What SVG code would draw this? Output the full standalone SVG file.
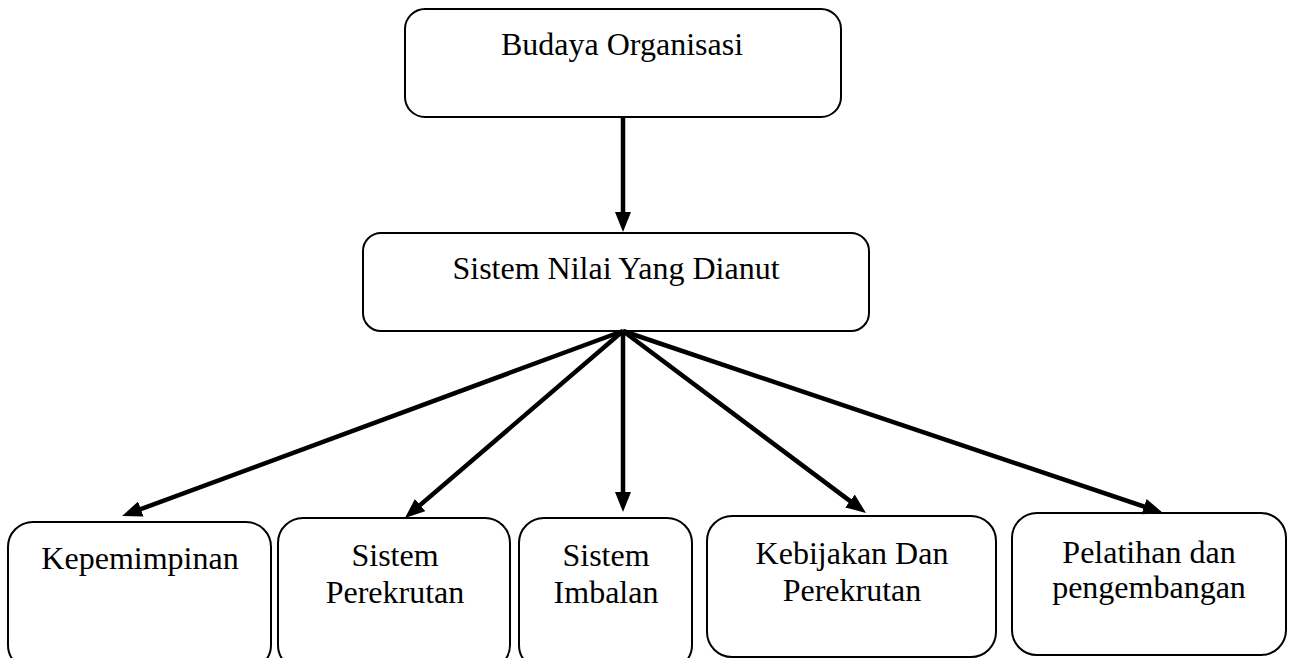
<svg xmlns="http://www.w3.org/2000/svg" width="1294" height="658" viewBox="0 0 1294 658">
  <style>
    .box { fill: #ffffff; stroke: #000000; stroke-width: 2; }
    .lbl { font-family: "Liberation Serif", "Times New Roman", serif; font-size: 32px; fill: #000000; text-anchor: middle; }
    .conn { stroke: #000000; stroke-width: 4.5; fill: none; marker-end: url(#arrow); }
  </style>
  <defs>
    <marker id="arrow" markerUnits="userSpaceOnUse" markerWidth="20" markerHeight="16" refX="9" refY="8" orient="auto">
      <path d="M0,0 L20,8 L0,16 z" fill="#000000"/>
    </marker>
  </defs>
  <rect width="1294" height="658" fill="#ffffff"/>

  <g id="budaya-organisasi">
    <rect class="box" x="405" y="9" width="436" height="108" rx="20" ry="20"/>
    <text class="lbl" x="622" y="55">Budaya Organisasi</text>
  </g>

  <g id="sistem-nilai">
    <rect class="box" x="363" y="233" width="506" height="98" rx="18" ry="18"/>
    <text class="lbl" x="616" y="279">Sistem Nilai Yang Dianut</text>
  </g>

  <g id="kepemimpinan">
    <rect class="box" x="8" y="522" width="263" height="148" rx="25" ry="25"/>
    <text class="lbl" x="140" y="569">Kepemimpinan</text>
  </g>

  <g id="sistem-perekrutan">
    <rect class="box" x="278" y="518" width="232" height="152" rx="25" ry="25"/>
    <text class="lbl" x="395" y="566">Sistem</text>
    <text class="lbl" x="395" y="603">Perekrutan</text>
  </g>

  <g id="sistem-imbalan">
    <rect class="box" x="519" y="518" width="173" height="152" rx="25" ry="25"/>
    <text class="lbl" x="606" y="566">Sistem</text>
    <text class="lbl" x="606" y="603">Imbalan</text>
  </g>

  <g id="kebijakan">
    <rect class="box" x="707" y="516" width="289" height="141" rx="25" ry="25"/>
    <text class="lbl" x="852" y="564">Kebijakan Dan</text>
    <text class="lbl" x="852" y="601">Perekrutan</text>
  </g>

  <g id="pelatihan">
    <rect class="box" x="1012" y="513" width="274" height="142" rx="25" ry="25"/>
    <text class="lbl" x="1149" y="563">Pelatihan dan</text>
    <text class="lbl" x="1149" y="598">pengembangan</text>
  </g>

  <g id="connectors">
    <line class="conn" x1="623" y1="117" x2="623" y2="221"/>
    <line class="conn" x1="623" y1="331" x2="132.4" y2="512.2"/>
    <line class="conn" x1="623" y1="331" x2="413.3" y2="510.9"/>
    <line class="conn" x1="623" y1="331" x2="623" y2="501"/>
    <line class="conn" x1="623" y1="331" x2="857.2" y2="506.4"/>
    <line class="conn" x1="623" y1="331" x2="1152.6" y2="509.5"/>
  </g>
</svg>
